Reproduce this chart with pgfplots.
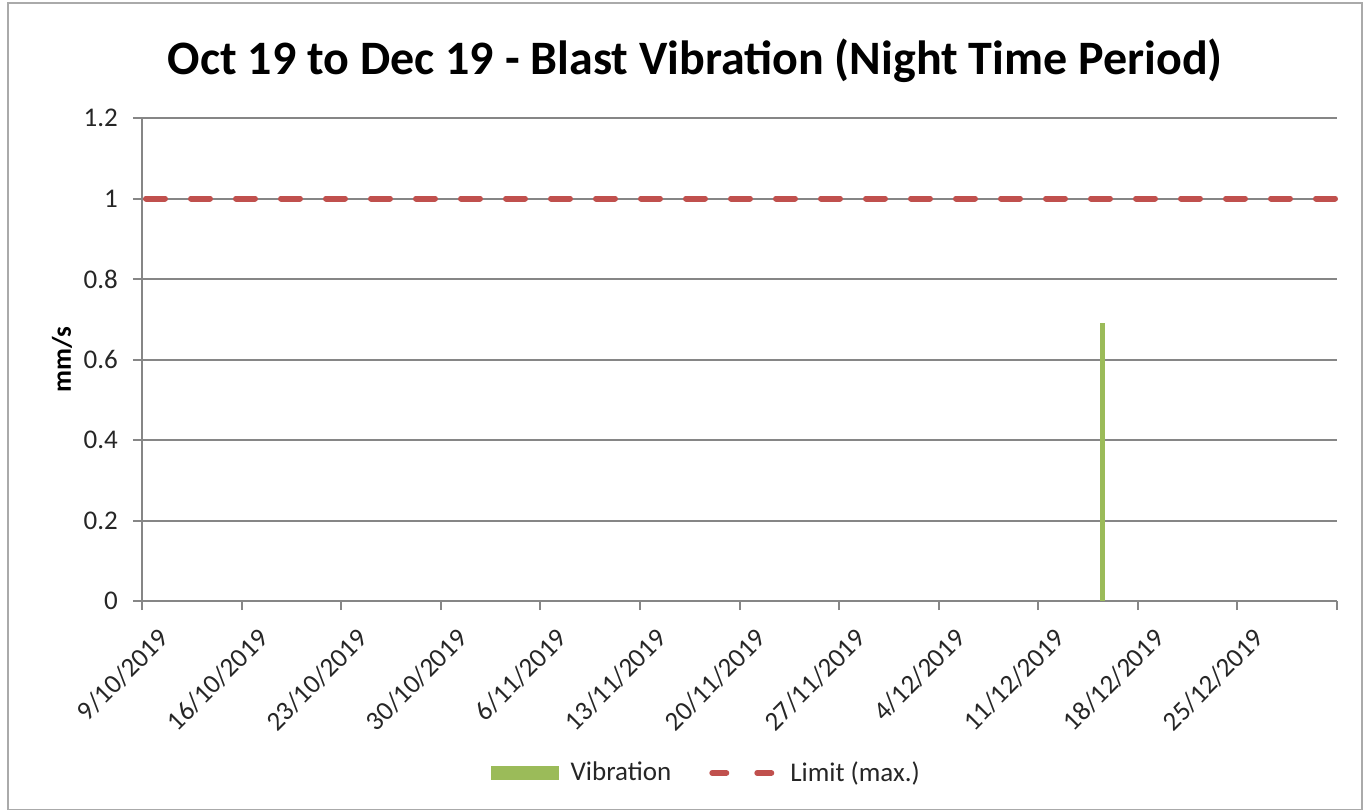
\documentclass[border=0pt]{standalone}
\usepackage{pgfplots}
\pgfplotsset{compat=1.18}
\usepackage{fontspec}
\setmainfont{Carlito}
\definecolor{vibgreen}{HTML}{9BBB59}
\definecolor{limred}{HTML}{C0504D}
\definecolor{gridgray}{HTML}{868686}
\definecolor{txt}{HTML}{262626}
\begin{document}
\begin{tikzpicture}[x=1pt,y=1pt]
\useasboundingbox (-71,-104) rectangle (612,300.5);
\draw[gridgray!70, line width=1pt] (-67,-104.5) rectangle (610,299);
\begin{axis}[
  at={(0,0)}, anchor=south west,
  scale only axis,
  width=597.5pt, height=241.5pt,
  xmin=0, xmax=84,
  ymin=0, ymax=1.2,
  xtick={0,7,...,84},
  xticklabels={9/10/2019,16/10/2019,23/10/2019,30/10/2019,6/11/2019,13/11/2019,20/11/2019,27/11/2019,4/12/2019,11/12/2019,18/12/2019,25/12/2019,{}},
  ytick={0,0.2,...,1.2},
  yticklabels={0,0.2,0.4,0.6,0.8,1,1.2},
  axis x line*=bottom, axis y line*=left,
  axis line style={gridgray, line width=1pt, -},
  ymajorgrids, grid style={gridgray, line width=1pt},
  tick style={gridgray, line width=1pt},
  major tick length=4.5pt,
  tick align=outside,
  x tick label style={rotate=45, anchor=north east, font=\fontsize{13.5}{15}\selectfont, text=txt, inner sep=1pt, xshift=0.5pt, yshift=-10pt},
  y tick label style={font=\fontsize{13.5}{15}\selectfont, text=txt, xshift=-4pt},
  ylabel={\textbf{mm/s}},
  ylabel style={font=\fontsize{13.5}{15}\selectfont, text=black, at={(rel axis cs:-0.067,0.5)}, anchor=center},
  title={\textbf{Oct 19 to Dec 19 - Blast Vibration (Night Time Period)}},
  title style={font=\fontsize{24}{28}\selectfont, at={(rel axis cs:0.463,1.093)}, anchor=center},
  legend columns=2,
  legend style={at={(rel axis cs:0.473,-0.356)}, anchor=center, draw=none, font=\fontsize{13.5}{15}\selectfont, text=txt,
    /tikz/every odd column/.append style={column sep=1pt},
    /tikz/every even column/.append style={column sep=15pt}},
  clip=false,
]
\addplot[ybar, bar width=2.5pt, fill=vibgreen, draw=none,
  legend image code/.code={\fill[vibgreen] (0pt,-3.5pt) rectangle (34pt,3.5pt); \path (37pt,0);}]
  coordinates {(67.5,0.69)};
\addlegendentry{Vibration}
\addplot[limred, line width=3pt, line cap=round, dash pattern=on 9.5pt off 13pt, dash phase=-2pt,
  legend image code/.code={\draw[limred, line width=3pt, line cap=round] (1.5pt,0) -- (10.5pt,0) (24pt,0) -- (33pt,0); \path (38pt,0);}]
  coordinates {(0,1) (84,1)};
\addlegendentry{Limit (max.)}
\end{axis}
\end{tikzpicture}
\end{document}
